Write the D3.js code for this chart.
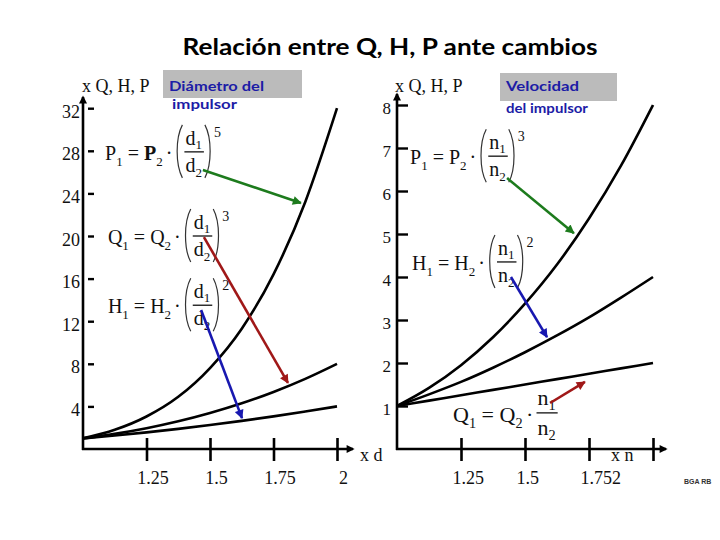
<!DOCTYPE html>
<html>
<head>
<meta charset="utf-8">
<script src="https://cdn.jsdelivr.net/npm/d3@7"></script>
<style>
  body { margin: 0; background: #fff; }
  svg { display: block; }
  .serif { font-family: "Liberation Serif", "DejaVu Serif", serif; }
</style>
</head>
<body>
<div id="chart"></div>
<script>
// x values (d1/d2 on the left, n1/n2 on the right)
var xSteps = [1, 1.125, 1.25, 1.375, 1.5, 1.625, 1.75, 1.875, 2];

// Diámetro del impulsor (left panel)
var dP = [1, 1.8, 3.05, 4.9, 7.6, 11.3, 16.4, 23.2, 32];
var dQ = [1, 1.42, 1.95, 2.6, 3.38, 4.29, 5.36, 6.59, 8];
var dH = [1, 1.27, 1.56, 1.89, 2.25, 2.64, 3.06, 3.52, 4];

// Velocidad del impulsor (right panel)
var nP = [1, 1.42, 1.95, 2.6, 3.38, 4.29, 5.36, 6.59, 8];
var nH = [1, 1.27, 1.56, 1.89, 2.25, 2.64, 3.06, 3.52, 4];
var nQ = [1, 1.125, 1.25, 1.375, 1.5, 1.625, 1.75, 1.875, 2];

// ticks
var xTicks = [1.25, 1.5, 1.75, 2];
var leftXLabels = ["1.25", "1.5", "1.75", "2"];
var rightXLabels = ["1.25", "1.5", "1.752", ""];
var leftYTicks = [4, 8, 12, 16, 20, 24, 28, 32];
var rightYTicks = [1, 2, 3, 4, 5, 6, 7, 8];

// annotations, in data units of each panel
var leftFormulas = [
  {lead: "P", v: "d", exp: "5", bold: true, at: [1.087, 27.9]},
  {lead: "Q", v: "d", exp: "3", at: [1.098, 20.0]},
  {lead: "H", v: "d", exp: "2", at: [1.098, 13.5]}
];
var rightFormulas = [
  {lead: "P", v: "n", exp: "3", at: [1.051, 6.81]},
  {lead: "H", v: "n", exp: "2", at: [1.059, 4.35]},
  {lead: "Q", v: "n", exp: null, at: [1.219, 0.84], big: true}
];
var leftArrows = [
  {from: [1.472, 26.2], to: [1.858, 23.1], c: "green"},
  {from: [1.476, 19.9], to: [1.807, 6.2], c: "red"},
  {from: [1.465, 13.05], to: [1.626, 2.9], c: "blue"}
];
var rightArrows = [
  {from: [1.43, 6.30], to: [1.691, 5.02], c: "green"},
  {from: [1.445, 4.0], to: [1.586, 2.6], c: "blue"},
  {from: [1.598, 1.07], to: [1.734, 1.56], c: "red"}
];
var arrowColors = {green: "#1d7b1d", red: "#a01818", blue: "#1818b0"};

var width = 720, height = 540;
var svg = d3.select("#chart").append("svg")
    .attr("width", width)
    .attr("height", height);

// markers
var defs = svg.append("defs");
Object.keys(arrowColors).forEach(function (k) {
    defs.append("marker")
        .attr("id", "head-" + k)
        .attr("viewBox", "0 0 10 10")
        .attr("refX", 9).attr("refY", 5)
        .attr("markerUnits", "userSpaceOnUse")
        .attr("markerWidth", 11).attr("markerHeight", 9)
        .attr("orient", "auto")
        .append("path").attr("d", "M0,0 L10,5 L0,10 Z").attr("fill", arrowColors[k]);
});
defs.append("marker")
    .attr("id", "axis-head")
    .attr("viewBox", "0 0 10 10")
    .attr("refX", 8).attr("refY", 5)
    .attr("markerUnits", "userSpaceOnUse")
    .attr("markerWidth", 9).attr("markerHeight", 8)
    .attr("orient", "auto")
    .append("path").attr("d", "M0,0 L10,5 L0,10 Z").attr("fill", "#000");

// title
svg.append("text")
    .attr("x", 390).attr("y", 55)
    .attr("text-anchor", "middle")
    .attr("textLength", 415).attr("lengthAdjust", "spacingAndGlyphs")
    .style("font-family", "Lato, 'Open Sans', sans-serif")
    .style("font-weight", "bold")
    .style("font-size", "23px")
    .text("Relación entre Q, H, P ante cambios");

// Formula typesetting
function formula(g, x0, y0, f) {
    var s = f.big ? 1.1 : 1;
    var t = g.append("g").attr("class", "serif").attr("fill", "#111");
    var cx = x0;
    function put(str, size, dy, weight, x) {
        var el = t.append("text")
            .attr("x", x == null ? cx : x).attr("y", y0 + dy * s)
            .style("font-size", (size * s) + "px")
            .style("font-weight", weight || "normal")
            .text(str);
        return el.node().getComputedTextLength();
    }
    cx += put(f.lead, 20, 8);
    cx += put("1", 13, 14) + 5 * s;
    cx += put("=", 20, 8) + 5 * s;
    cx += put(f.lead, 20, 8, f.bold ? "bold" : null);
    cx += put("2", 13, 14) + 3 * s;
    cx += put("\u00b7", 20, 8) + 3 * s;
    if (f.exp) {
        t.append("path")
            .attr("d", "M" + (cx + 7) + "," + (y0 - 27) + " C" + (cx) + "," + (y0 - 14) + " " + (cx) + "," + (y0 + 13) + " " + (cx + 7) + "," + (y0 + 26))
            .attr("fill", "none").attr("stroke", "#333").attr("stroke-width", 1.2);
        cx += 9;
    }
    var fx = cx;
    var nw = put(f.v, 20, -7, null, fx + 1);
    nw += put("1", 13, -3, null, fx + 1 + nw);
    var dw = put(f.v, 20, 20, null, fx + 1);
    dw += put("2", 13, 25, null, fx + 1 + dw);
    var fw = Math.max(nw, dw) + 3;
    t.append("line")
        .attr("x1", fx).attr("x2", fx + fw)
        .attr("y1", y0).attr("y2", y0)
        .attr("stroke", "#111").attr("stroke-width", 1.3);
    cx += fw;
    if (f.exp) {
        t.append("path")
            .attr("d", "M" + (cx + 1) + "," + (y0 - 27) + " C" + (cx + 8) + "," + (y0 - 14) + " " + (cx + 8) + "," + (y0 + 13) + " " + (cx + 1) + "," + (y0 + 26))
            .attr("fill", "none").attr("stroke", "#333").attr("stroke-width", 1.2);
        cx += 10;
        put(f.exp, 14, -15, null, cx);
    }
}

function panel(cfg) {
    var x = d3.scaleLinear().domain([1, 2]).range(cfg.xRange);
    var y = d3.scaleLinear().domain([0, cfg.yMax]).range([449, cfg.yTop]);
    var g = svg.append("g");
    var x0 = cfg.xRange[0];

    // axis lines with arrow heads
    g.append("line")
        .attr("x1", x0).attr("y1", y(0) + 1)
        .attr("x2", x0).attr("y2", cfg.yArrow)
        .attr("stroke", "#000").attr("stroke-width", 2.6)
        .attr("marker-end", "url(#axis-head)");
    g.append("line")
        .attr("x1", x0 - 1).attr("y1", y(0))
        .attr("x2", cfg.xArrow).attr("y2", y(0))
        .attr("stroke", "#000").attr("stroke-width", 2.6)
        .attr("marker-end", "url(#axis-head)");

    // x ticks crossing the axis
    var xAxis = g.append("g")
        .attr("class", "serif")
        .attr("transform", "translate(0," + y(0) + ")")
        .call(d3.axisBottom(x).tickValues(xTicks).tickSizeInner(12).tickSizeOuter(0)
            .tickFormat(function (d, i) { return cfg.xLabels[i]; }));
    xAxis.select(".domain").remove();
    xAxis.selectAll(".tick line").attr("y1", -11).attr("stroke-width", 2.6);
    xAxis.selectAll(".tick text")
        .attr("y", 22).attr("dx", cfg.xLabelDx).attr("text-anchor", cfg.xLabelAnchor)
        .style("font-size", "18px").attr("fill", "#111");

    // y ticks
    var yAxis = g.append("g")
        .attr("class", "serif")
        .attr("transform", "translate(" + cfg.yTickX + ",0)")
        .call(d3.axisLeft(y).tickValues(cfg.yTicks).tickSize(-cfg.yTickLen).tickPadding(cfg.yPad));
    yAxis.select(".domain").remove();
    yAxis.selectAll(".tick line").attr("stroke-width", 2.4);
    yAxis.selectAll(".tick text")
        .attr("dy", "0.5em")
        .style("font-size", cfg.yFont + "px").attr("fill", "#111");

    // axis names
    g.append("text").attr("class", "serif")
        .attr("x", cfg.yNameX).attr("y", 92)
        .style("font-size", "18px").attr("fill", "#111")
        .text("x Q, H, P");
    g.append("text").attr("class", "serif")
        .attr("x", cfg.xName[0]).attr("y", 461)
        .style("font-size", "18px").attr("fill", "#111")
        .text(cfg.xName[1]);

    // curves
    var line = d3.line()
        .x(function (d, i) { return x(xSteps[i]); })
        .y(function (d) { return y(d); })
        .curve(d3.curveMonotoneX);
    cfg.series.forEach(function (s) {
        g.append("path")
            .datum(s)
            .attr("d", line)
            .attr("fill", "none")
            .attr("stroke", "#000")
            .attr("stroke-width", 2.6);
    });

    // formulas
    cfg.formulas.forEach(function (f) {
        formula(g, x(f.at[0]), y(f.at[1]), f);
    });

    // arrows
    cfg.arrows.forEach(function (a) {
        g.append("line")
            .attr("x1", x(a.from[0])).attr("y1", y(a.from[1]))
            .attr("x2", x(a.to[0])).attr("y2", y(a.to[1]))
            .attr("stroke", arrowColors[a.c])
            .attr("stroke-width", 2.6)
            .attr("marker-end", "url(#head-" + a.c + ")");
    });
}

panel({
    xRange: [83, 337], yMax: 32, yTop: 108.2, yArrow: 97, xArrow: 353,
    xLabels: leftXLabels, xLabelDx: 6, xLabelAnchor: "middle",
    yTicks: leftYTicks, yTickX: 88, yTickLen: 6, yPad: 8, yFont: 18,
    yNameX: 82, xName: [360, "x d"],
    series: [dP, dQ, dH], formulas: leftFormulas, arrows: leftArrows
});
panel({
    xRange: [397, 653], yMax: 8, yTop: 105, yArrow: 94, xArrow: 666,
    xLabels: rightXLabels, xLabelDx: -9, xLabelAnchor: "start",
    yTicks: rightYTicks, yTickX: 397, yTickLen: 11, yPad: 6, yFont: 17,
    yNameX: 395, xName: [611, "x n"],
    series: [nP, nH, nQ], formulas: rightFormulas, arrows: rightArrows
});

// label boxes
function labelBox(x, y, w, h, lines) {
    svg.append("rect")
        .attr("x", x).attr("y", y).attr("width", w).attr("height", h)
        .attr("fill", "#bbbbbb");
    lines.forEach(function (l) {
        svg.append("text")
            .attr("x", l[0]).attr("y", l[1])
            .attr("textLength", l[3]).attr("lengthAdjust", "spacingAndGlyphs")
            .style("font-family", "Lato, 'Open Sans', sans-serif")
            .style("font-weight", "bold")
            .style("font-size", l[4] + "px")
            .attr("fill", "#1c1ca6")
            .text(l[2]);
    });
}
labelBox(163, 70, 139, 28, [[169, 91, "Diámetro del", 95, 13.5], [172, 109, "impulsor", 65, 13.5]]);
labelBox(500, 73, 117, 28, [[506, 91, "Velocidad", 73, 13], [506, 113, "del impulsor", 82, 13]]);

svg.append("text")
    .attr("x", 684).attr("y", 484)
    .style("font-family", "'Liberation Sans', Arial, sans-serif")
    .style("font-weight", "bold")
    .style("font-size", "7px")
    .attr("fill", "#333")
    .text("BGA RB");
</script>
</body>
</html>
